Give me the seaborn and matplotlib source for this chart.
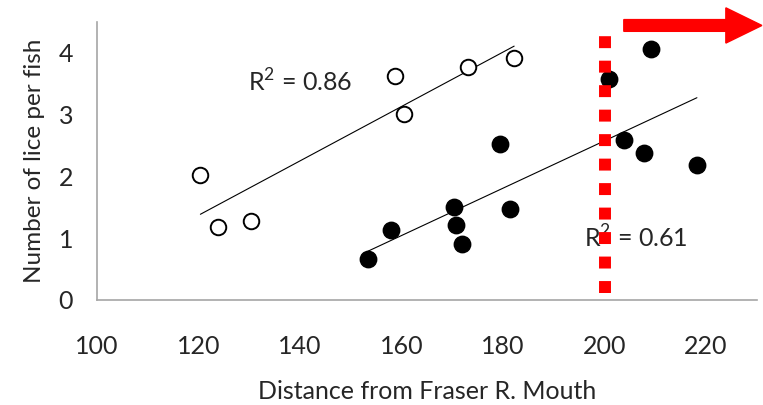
import matplotlib
matplotlib.use("Agg")
import matplotlib.pyplot as plt
import seaborn as sns
import pandas as pd
from matplotlib.patches import FancyArrow

# Open circles series
open_x = [120.4, 123.8, 130.4, 158.8, 160.6, 173.1, 182.2]
open_y = [2.02, 1.18, 1.27, 3.63, 3.01, 3.77, 3.91]
# Filled circles series
filled_x = [153.4, 158.0, 170.4, 170.8, 171.9, 179.5, 181.3, 200.8, 203.8, 207.7, 209.1, 218.2]
filled_y = [0.67, 1.13, 1.50, 1.21, 0.90, 2.52, 1.47, 3.58, 2.58, 2.38, 4.06, 2.18]

x_ticks = [100, 120, 140, 160, 180, 200, 220]
y_ticks = [0, 1, 2, 3, 4]
r2_open = "R$^2$ = 0.86"
r2_filled = "R$^2$ = 0.61"
cutoff_x = 200

sns.set_style("white")
plt.rcParams['font.family'] = ['Lato', 'DejaVu Sans']
plt.rcParams['mathtext.fontset'] = 'custom'
plt.rcParams['mathtext.rm'] = 'Lato'

fig = plt.figure(figsize=(7.63, 4.05), dpi=100)
ax = fig.add_axes([0.1269, 0.2593, 0.865, 0.687])

df_open = pd.DataFrame({"x": open_x, "y": open_y})
df_filled = pd.DataFrame({"x": filled_x, "y": filled_y})

sns.regplot(data=df_open, x="x", y="y", ax=ax, ci=None, truncate=True,
            scatter_kws=dict(s=125, facecolors="white", edgecolors="black", linewidths=1.4,
                             alpha=1, zorder=3),
            line_kws=dict(color="black", lw=0.8, zorder=2))
sns.regplot(data=df_filled, x="x", y="y", ax=ax, ci=None, truncate=True,
            scatter_kws=dict(s=140, facecolors="black", edgecolors="black", linewidths=1.0,
                             alpha=1, zorder=3),
            line_kws=dict(color="black", lw=0.8, zorder=2))

ax.text(129.8, 3.53, r2_open, fontsize=18, va="center", ha="left")
ax.text(196.0, 1.01, r2_filled, fontsize=18, va="center", ha="left")

ax.plot([cutoff_x, cutoff_x], [0.12, 4.44], color="red", lw=8.6,
        dashes=(1, 1.05), solid_capstyle="butt", dash_capstyle="butt", zorder=5)

arr = FancyArrow(203.8, 4.44, 231.0 - 203.8, 0, width=0.19, head_width=0.57,
                 head_length=7.1, length_includes_head=True, color="red",
                 clip_on=False, zorder=6)
ax.add_patch(arr)

ax.set_xlim(100, 230)
ax.set_ylim(0, 4.5)
ax.set_xticks(x_ticks)
ax.set_yticks(y_ticks)
ax.tick_params(axis="both", direction="in", length=5.5, width=1, color="#a6a6a6",
               labelsize=18)
ax.tick_params(axis="x", pad=25)
ax.tick_params(axis="y", pad=17)
for s in ["top", "right"]:
    ax.spines[s].set_visible(False)
for s in ["left", "bottom"]:
    ax.spines[s].set_color("#a6a6a6")
    ax.spines[s].set_linewidth(1.2)

ax.set_xlabel("Distance from Fraser R. Mouth", fontsize=18, labelpad=16)
ax.set_ylabel("Number of lice per fish", fontsize=17.5, labelpad=10)

fig.savefig("out.png", dpi=100)
